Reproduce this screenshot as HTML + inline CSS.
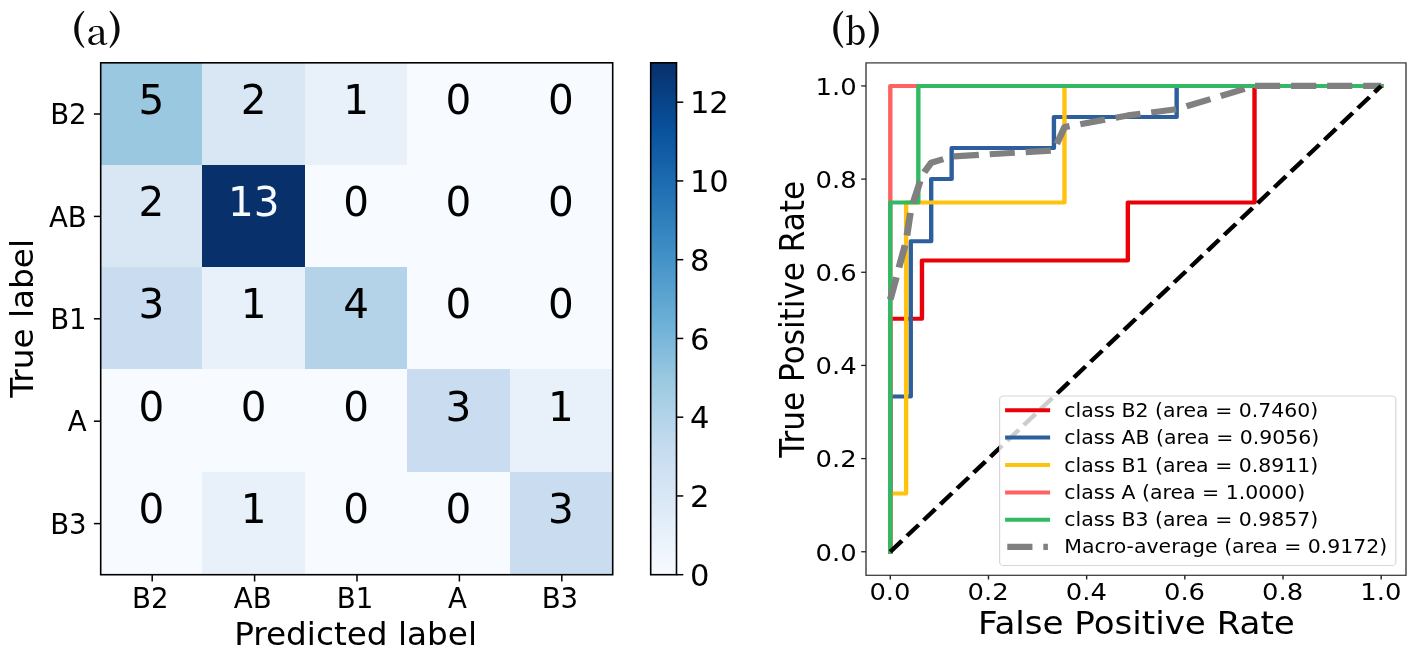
<!DOCTYPE html>
<html lang="en"><head><meta charset="utf-8"><title>Confusion matrix and ROC curves</title>
<style>html,body{margin:0;padding:0;background:#fff;}body{width:1417px;height:654px;overflow:hidden;}</style>
</head><body>
<svg width="1417" height="654" viewBox="0 0 1417 654" style="display:block">
<defs><linearGradient id="cb" x1="0" y1="1" x2="0" y2="0">
<stop offset="0.0000" stop-color="#f7fbff"/>
<stop offset="0.1250" stop-color="#deebf7"/>
<stop offset="0.2500" stop-color="#c6dbef"/>
<stop offset="0.3750" stop-color="#9dcae1"/>
<stop offset="0.5000" stop-color="#6aaed6"/>
<stop offset="0.6250" stop-color="#4191c6"/>
<stop offset="0.7500" stop-color="#2070b4"/>
<stop offset="0.8750" stop-color="#08509b"/>
<stop offset="1.0000" stop-color="#08306b"/>
</linearGradient></defs>
<rect width="1417" height="654" fill="#ffffff"/>
<g shape-rendering="crispEdges">
<rect x="100.00" y="62.10" width="102.90" height="102.90" fill="#9ac8e0"/>
<rect x="202.40" y="62.10" width="102.90" height="102.90" fill="#d9e7f5"/>
<rect x="304.80" y="62.10" width="102.90" height="102.90" fill="#e8f1fa"/>
<rect x="407.20" y="62.10" width="102.90" height="102.90" fill="#f7fbff"/>
<rect x="509.60" y="62.10" width="102.90" height="102.90" fill="#f7fbff"/>
<rect x="100.00" y="164.50" width="102.90" height="102.90" fill="#d9e7f5"/>
<rect x="202.40" y="164.50" width="102.90" height="102.90" fill="#08306b"/>
<rect x="304.80" y="164.50" width="102.90" height="102.90" fill="#f7fbff"/>
<rect x="407.20" y="164.50" width="102.90" height="102.90" fill="#f7fbff"/>
<rect x="509.60" y="164.50" width="102.90" height="102.90" fill="#f7fbff"/>
<rect x="100.00" y="266.90" width="102.90" height="102.90" fill="#caddf0"/>
<rect x="202.40" y="266.90" width="102.90" height="102.90" fill="#e8f1fa"/>
<rect x="304.80" y="266.90" width="102.90" height="102.90" fill="#b4d3e9"/>
<rect x="407.20" y="266.90" width="102.90" height="102.90" fill="#f7fbff"/>
<rect x="509.60" y="266.90" width="102.90" height="102.90" fill="#f7fbff"/>
<rect x="100.00" y="369.30" width="102.90" height="102.90" fill="#f7fbff"/>
<rect x="202.40" y="369.30" width="102.90" height="102.90" fill="#f7fbff"/>
<rect x="304.80" y="369.30" width="102.90" height="102.90" fill="#f7fbff"/>
<rect x="407.20" y="369.30" width="102.90" height="102.90" fill="#caddf0"/>
<rect x="509.60" y="369.30" width="102.90" height="102.90" fill="#e8f1fa"/>
<rect x="100.00" y="471.70" width="102.90" height="102.90" fill="#f7fbff"/>
<rect x="202.40" y="471.70" width="102.90" height="102.90" fill="#e8f1fa"/>
<rect x="304.80" y="471.70" width="102.90" height="102.90" fill="#f7fbff"/>
<rect x="407.20" y="471.70" width="102.90" height="102.90" fill="#f7fbff"/>
<rect x="509.60" y="471.70" width="102.90" height="102.90" fill="#caddf0"/>
</g>
<g font-family='"DejaVu Sans","Liberation Sans",sans-serif' font-size="40.5" text-anchor="middle">
<text x="151.30" y="113.50" fill="#000000">5</text>
<text x="253.70" y="113.50" fill="#000000">2</text>
<text x="356.10" y="113.50" fill="#000000">1</text>
<text x="458.50" y="113.50" fill="#000000">0</text>
<text x="560.90" y="113.50" fill="#000000">0</text>
<text x="151.30" y="215.90" fill="#000000">2</text>
<text x="253.70" y="215.90" fill="#f7fbff">13</text>
<text x="356.10" y="215.90" fill="#000000">0</text>
<text x="458.50" y="215.90" fill="#000000">0</text>
<text x="560.90" y="215.90" fill="#000000">0</text>
<text x="151.30" y="318.30" fill="#000000">3</text>
<text x="253.70" y="318.30" fill="#000000">1</text>
<text x="356.10" y="318.30" fill="#000000">4</text>
<text x="458.50" y="318.30" fill="#000000">0</text>
<text x="560.90" y="318.30" fill="#000000">0</text>
<text x="151.30" y="420.70" fill="#000000">0</text>
<text x="253.70" y="420.70" fill="#000000">0</text>
<text x="356.10" y="420.70" fill="#000000">0</text>
<text x="458.50" y="420.70" fill="#000000">3</text>
<text x="560.90" y="420.70" fill="#000000">1</text>
<text x="151.30" y="523.10" fill="#000000">0</text>
<text x="253.70" y="523.10" fill="#000000">1</text>
<text x="356.10" y="523.10" fill="#000000">0</text>
<text x="458.50" y="523.10" fill="#000000">0</text>
<text x="560.90" y="523.10" fill="#000000">3</text>
</g>
<rect x="100.7" y="62.8" width="512.0" height="511.90000000000003" fill="none" stroke="#000" stroke-width="1.6"/>
<g stroke="#000" stroke-width="1.5">
<line x1="93.9" y1="114.00" x2="100.7" y2="114.00"/>
<line x1="152.20" y1="574.7" x2="152.20" y2="581.5"/>
<line x1="93.9" y1="216.40" x2="100.7" y2="216.40"/>
<line x1="254.60" y1="574.7" x2="254.60" y2="581.5"/>
<line x1="93.9" y1="318.80" x2="100.7" y2="318.80"/>
<line x1="357.00" y1="574.7" x2="357.00" y2="581.5"/>
<line x1="93.9" y1="421.20" x2="100.7" y2="421.20"/>
<line x1="459.40" y1="574.7" x2="459.40" y2="581.5"/>
<line x1="93.9" y1="523.60" x2="100.7" y2="523.60"/>
<line x1="561.80" y1="574.7" x2="561.80" y2="581.5"/>
</g>
<g font-family='"DejaVu Sans","Liberation Sans",sans-serif' font-size="27.6" fill="#000">
<text x="86.7" y="124.10" text-anchor="end">B2</text>
<text x="150.30" y="608.1" text-anchor="middle">B2</text>
<text x="86.7" y="226.50" text-anchor="end">AB</text>
<text x="252.70" y="608.1" text-anchor="middle">AB</text>
<text x="86.7" y="328.90" text-anchor="end">B1</text>
<text x="355.10" y="608.1" text-anchor="middle">B1</text>
<text x="86.7" y="431.30" text-anchor="end">A</text>
<text x="457.50" y="608.1" text-anchor="middle">A</text>
<text x="86.7" y="533.70" text-anchor="end">B3</text>
<text x="559.90" y="608.1" text-anchor="middle">B3</text>
</g>
<text font-family='"DejaVu Sans","Liberation Sans",sans-serif' font-size="32.7" fill="#000" text-anchor="middle" x="355.6" y="644.6">Predicted label</text>
<text font-family='"DejaVu Sans","Liberation Sans",sans-serif' font-size="32.7" fill="#000" text-anchor="middle" transform="translate(32.8,318.4) rotate(-90)">True label</text>
<rect x="650.7" y="62.8" width="25.799999999999955" height="511.90000000000003" fill="url(#cb)" stroke="#000" stroke-width="1.6"/>
<g stroke="#000" stroke-width="1.5">
<line x1="676.5" y1="574.70" x2="683.3" y2="574.70"/>
<line x1="676.5" y1="495.95" x2="683.3" y2="495.95"/>
<line x1="676.5" y1="417.19" x2="683.3" y2="417.19"/>
<line x1="676.5" y1="338.44" x2="683.3" y2="338.44"/>
<line x1="676.5" y1="259.68" x2="683.3" y2="259.68"/>
<line x1="676.5" y1="180.93" x2="683.3" y2="180.93"/>
<line x1="676.5" y1="102.18" x2="683.3" y2="102.18"/>
</g>
<g font-family='"DejaVu Sans","Liberation Sans",sans-serif' font-size="30.6" fill="#000">
<text x="689.9" y="586.00">0</text>
<text x="689.9" y="507.25">2</text>
<text x="689.9" y="428.49">4</text>
<text x="689.9" y="349.74">6</text>
<text x="689.9" y="270.98">8</text>
<text x="689.9" y="192.23">10</text>
<text x="689.9" y="113.48">12</text>
</g>
<text font-family='"Noto Serif CJK SC","Liberation Serif",serif' font-weight="500" font-size="36.6" fill="#0a0a0a"><tspan x="71.3" y="40.8" font-weight="900" textLength="14.6" lengthAdjust="spacingAndGlyphs">(</tspan><tspan x="86.4" y="44.7" font-size="35.2" textLength="21.4" lengthAdjust="spacingAndGlyphs">a</tspan><tspan x="108.0" y="40.8" font-weight="900" textLength="14.6" lengthAdjust="spacingAndGlyphs">)</tspan></text>
<text font-family='"Noto Serif CJK SC","Liberation Serif",serif' font-weight="500" font-size="36.6" fill="#0a0a0a"><tspan x="830.3" y="40.8" font-weight="900" textLength="14.6" lengthAdjust="spacingAndGlyphs">(</tspan><tspan x="845.0" y="44.7" font-size="36.6" textLength="21.2" lengthAdjust="spacingAndGlyphs">b</tspan><tspan x="867.2" y="40.8" font-weight="900" textLength="14.6" lengthAdjust="spacingAndGlyphs">)</tspan></text>
<g transform="scale(1.097,1)">
<polyline points="811.57,551.76 811.57,318.85 840.44,318.85 840.44,260.62 1028.11,260.62 1028.11,202.40 1143.59,202.40 1143.59,85.94 1259.07,85.94" fill="none" stroke="#ea0008" stroke-width="4.0" stroke-linejoin="round" stroke-linecap="square"/>
<polyline points="811.57,551.76 811.57,396.49 830.22,396.49 830.22,241.21 848.86,241.21 848.86,179.10 867.51,179.10 867.51,148.05 960.74,148.05 960.74,117.00 1072.62,117.00 1072.62,85.94 1259.07,85.94" fill="none" stroke="#2c5f9b" stroke-width="4.0" stroke-linejoin="round" stroke-linecap="square"/>
<polyline points="811.57,551.76 811.57,493.53 826.01,493.53 826.01,202.40 970.36,202.40 970.36,85.94 1259.07,85.94" fill="none" stroke="#ffc20e" stroke-width="4.0" stroke-linejoin="round" stroke-linecap="square"/>
<polyline points="811.57,551.76 811.57,85.94 1259.07,85.94" fill="none" stroke="#ff6262" stroke-width="4.0" stroke-linejoin="round" stroke-linecap="square"/>
<polyline points="811.57,551.76 811.57,202.40 837.14,202.40 837.14,85.94 1259.07,85.94" fill="none" stroke="#31b963" stroke-width="4.0" stroke-linejoin="round" stroke-linecap="square"/>
<polyline points="811.57,299.44 826.01,241.21 830.22,210.16 837.14,186.87 840.44,175.22 848.86,162.80 867.51,156.59 960.74,150.38 970.36,127.09 1028.11,115.44 1072.62,109.23 1143.59,85.94 1259.07,85.94" fill="none" stroke="#808080" stroke-width="6.2" stroke-linejoin="round" stroke-dasharray="22.94 9.92"/>
<line x1="811.57" y1="551.76" x2="1259.07" y2="85.94" stroke="#000" stroke-width="4.146" stroke-dasharray="15.34 6.63"/>
<rect x="789.43" y="62.9" width="492.25" height="512.4" fill="none" stroke="#3a3a3a" stroke-width="1.25"/>
<g stroke="#222" stroke-width="1.3">
<line x1="785.03" y1="551.76" x2="789.43" y2="551.76"/>
<line x1="811.57" y1="575.3" x2="811.57" y2="579.5"/>
<line x1="785.03" y1="458.60" x2="789.43" y2="458.60"/>
<line x1="901.07" y1="575.3" x2="901.07" y2="579.5"/>
<line x1="785.03" y1="365.43" x2="789.43" y2="365.43"/>
<line x1="990.57" y1="575.3" x2="990.57" y2="579.5"/>
<line x1="785.03" y1="272.27" x2="789.43" y2="272.27"/>
<line x1="1080.07" y1="575.3" x2="1080.07" y2="579.5"/>
<line x1="785.03" y1="179.10" x2="789.43" y2="179.10"/>
<line x1="1169.57" y1="575.3" x2="1169.57" y2="579.5"/>
<line x1="785.03" y1="85.94" x2="789.43" y2="85.94"/>
<line x1="1259.07" y1="575.3" x2="1259.07" y2="579.5"/>
</g>
<g font-family='"DejaVu Sans","Liberation Sans",sans-serif' font-size="23.6" fill="#000">
<text x="781.04" y="560.66" text-anchor="end">0.0</text>
<text x="811.27" y="600.20" text-anchor="middle">0.0</text>
<text x="781.04" y="467.50" text-anchor="end">0.2</text>
<text x="900.77" y="600.20" text-anchor="middle">0.2</text>
<text x="781.04" y="374.33" text-anchor="end">0.4</text>
<text x="990.27" y="600.20" text-anchor="middle">0.4</text>
<text x="781.04" y="281.17" text-anchor="end">0.6</text>
<text x="1079.77" y="600.20" text-anchor="middle">0.6</text>
<text x="781.04" y="188.00" text-anchor="end">0.8</text>
<text x="1169.27" y="600.20" text-anchor="middle">0.8</text>
<text x="781.04" y="94.84" text-anchor="end">1.0</text>
<text x="1258.77" y="600.20" text-anchor="middle">1.0</text>
</g>
<text font-family='"DejaVu Sans","Liberation Sans",sans-serif' font-size="31.1" fill="#000" text-anchor="middle" x="1035.92" y="633.8">False Positive Rate</text>
<text font-family='"DejaVu Sans","Liberation Sans",sans-serif' font-size="31.1" fill="#000" text-anchor="middle" transform="translate(732.54,319.4) rotate(-90)">True Positive Rate</text>
<rect x="911.21" y="396.0" width="361.17" height="169.5" rx="3.6" ry="3.6" fill="#ffffff" fill-opacity="0.8" stroke="#cccccc" stroke-opacity="0.8" stroke-width="1.05"/>
<line x1="916.23" y1="410.3" x2="957.25" y2="410.3" stroke="#ea0008" stroke-width="4.0"/>
<line x1="916.23" y1="437.6" x2="957.25" y2="437.6" stroke="#2c5f9b" stroke-width="4.0"/>
<line x1="916.23" y1="464.9" x2="957.25" y2="464.9" stroke="#ffc20e" stroke-width="4.0"/>
<line x1="916.23" y1="492.4" x2="957.25" y2="492.4" stroke="#ff6262" stroke-width="4.0"/>
<line x1="916.23" y1="519.8" x2="957.25" y2="519.8" stroke="#31b963" stroke-width="4.0"/>
<line x1="918.23" y1="546.8" x2="955.24" y2="546.8" stroke="#808080" stroke-width="6.2" stroke-dasharray="22.94 9.92"/>
<g font-family='"DejaVu Sans","Liberation Sans",sans-serif' font-size="18.65" fill="#000">
<text x="970.19" y="417.00">class B2 (area = 0.7460)</text>
<text x="970.19" y="444.30">class AB (area = 0.9056)</text>
<text x="970.19" y="471.60">class B1 (area = 0.8911)</text>
<text x="970.19" y="499.10">class A (area = 1.0000)</text>
<text x="970.19" y="526.50">class B3 (area = 0.9857)</text>
<text x="970.19" y="553.50">Macro-average (area = 0.9172)</text>
</g>
</g>
</svg>
</body></html>
